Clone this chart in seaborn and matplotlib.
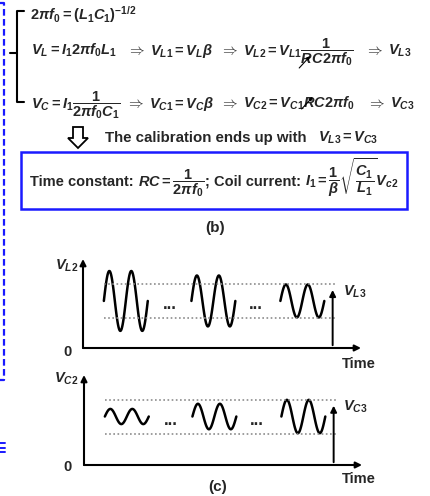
import numpy as np
import pandas as pd
import matplotlib
matplotlib.use('Agg')
import matplotlib.pyplot as plt
from matplotlib.patches import Rectangle, Polygon
import seaborn as sns

# Datos de los trenes de onda (unidades arbitrarias)
burst_start = [0.75, 3.9, 7.1]
burst_len = 1.58
burst_cycles = 2
vl2_amp = [1.0, 0.85, 0.55]
vc2_amp = [0.25, 0.42, 0.55]
vl2_center = 1.57
vc2_center = 1.6
vl3_band = [1.0, 2.13]
vc3_band = [1.03, 2.13]
vl3_level = 2.03
vc3_level = 2.05
marker_t = 8.98
dots_t = [3.13, 6.2]

sns.set_style('white')
plt.rcParams['font.family'] = ['Liberation Sans', 'DejaVu Sans']
plt.rcParams['font.weight'] = 'bold'
plt.rcParams['mathtext.fontset'] = 'custom'
plt.rcParams['mathtext.rm'] = 'Liberation Sans:bold'
plt.rcParams['mathtext.it'] = 'Liberation Sans:bold:italic'
plt.rcParams['mathtext.bf'] = 'Liberation Sans:bold'
plt.rcParams['mathtext.sf'] = 'Liberation Sans:bold'

W, H = 430, 496
fig = plt.figure(figsize=(W / 100, H / 100), dpi=100)
renderer = fig.canvas.get_renderer()

# capa de fondo en pixeles para textos y adornos
ax0 = fig.add_axes([0, 0, 1, 1])
ax0.set_xlim(0, W)
ax0.set_ylim(H, 0)
ax0.axis('off')

blue = '#1a1aff'
fs = 10.5

# linea azul discontinua a la izquierda
ax0.plot([0, 4, 4, 0], [3, 3, 380, 380], color=blue, lw=1.6, ls=(0, (3, 1.5)))
for yy in [443, 447.5, 452]:
    ax0.plot([0, 5], [yy, yy], color=blue, lw=1.4)

# llave
ax0.plot([24, 17, 17, 24], [11, 11, 102, 102], color='k', lw=1.5)
ax0.plot([10, 17], [53, 53], color='k', lw=1.5)


def t(x, y, s, size=fs, ha='left', va='baseline'):
    return ax0.text(x, y, s, fontsize=size, ha=ha, va=va, fontweight='bold')


def width(s, size=fs):
    tmp = t(0, 0, s, size=size)
    w = tmp.get_window_extent(renderer).width
    tmp.remove()
    return w


def seg_line(y, parts, size=fs, gap=5):
    end = 0
    out = []
    for s, anchor in parts:
        x = max(anchor, end + gap)
        txt = t(x, y, s, size=size)
        w = txt.get_window_extent(renderer).width
        end = x + w
        out.append((x, w))
    return out


def r_arrow(x0, y0):
    ax0.annotate('', xy=(x0 + 11, y0 - 12), xytext=(x0, y0),
                 arrowprops=dict(arrowstyle='-|>', lw=0.8, color='k', mutation_scale=5,
                                 shrinkA=0, shrinkB=0))


t(30, 20, r'$2\pi f_0 = (L_1C_1)^{-1/2}$')

y2 = 55
l2 = seg_line(y2, [(r'$V_L = I_1 2\pi f_0 L_1$', 31),
                   (r'$\Rightarrow$', 127),
                   (r'$V_{L1} = V_L\beta$', 145),
                   (r'$\Rightarrow$', 220),
                   (r'$V_{L2} = V_{L1}\dfrac{1}{RC2\pi f_0}$', 238),
                   (r'$\Rightarrow$', 365),
                   (r'$V_{L3}$', 385)])

y3 = 108
l3 = seg_line(y3, [(r'$V_C = I_1\dfrac{1}{2\pi f_0 C_1}$', 31),
                   (r'$\Rightarrow$', 120),
                   (r'$V_{C1} = V_C\beta$', 138),
                   (r'$\Rightarrow$', 220),
                   (r'$V_{C2} = V_{C1}RC2\pi f_0$', 238),
                   (r'$\Rightarrow$', 367),
                   (r'$V_{C3}$', 385)])

# flechitas de resistencia variable sobre la R
w_den = width(r'$RC2\pi f_0$')
x_r2 = l2[4][0] + l2[4][1] - w_den - 1
r_arrow(x_r2 - 2, y2 + 13)
x_r3 = l3[4][0] + l3[4][1] - w_den
r_arrow(x_r3 - 2, y3 + 1)

# flecha hueca hacia abajo
arrow_pts = [(73, 127), (83, 127), (83, 138), (88, 138), (78, 148), (68, 138), (73, 138)]
ax0.add_patch(Polygon(arrow_pts, closed=True, facecolor='white', edgecolor='k', lw=1.3))
t(105, 142, 'The calibration ends up with', size=10.8)
t(318, 142, r'$V_{L3} = V_{C3}$')

# recuadro azul
ax0.add_patch(Rectangle((21, 152), 386, 57, fill=False, edgecolor=blue, lw=1.8))
fb = 10.5
box_parts = [('Time constant:', 0),
             (r'$RC = \dfrac{1}{2\pi f_0}$', 5),
             ('; Coil current:', 0),
             (r'$I_1 = \dfrac{1}{\beta}\sqrt{\dfrac{C_1}{L_1}}V_{c2}$', 4)]
items = []
for s, gap in box_parts:
    txt = t(0, 186, s, size=fb)
    w = txt.get_window_extent(renderer).width
    items.append((txt, gap, w))
total = sum(g + w for _, g, w in items)
x = 214 - total / 2
for txt, gap, w in items:
    x += gap
    txt.set_x(x)
    x += w

t(215, 228, '(b)', size=11, ha='center', va='center')
t(218, 487, '(c)', size=11, ha='center', va='center')


def make_df(amps, center):
    rows = []
    for i, (t0, a) in enumerate(zip(burst_start, amps)):
        tt = np.linspace(0, burst_len, 120)
        vv = center + a * np.sin(2 * np.pi * burst_cycles * tt / burst_len)
        rows.append(pd.DataFrame({'t': t0 + tt, 'v': vv, 'burst': i}))
    return pd.concat(rows, ignore_index=True)


def panel(rect, amps, center, band, level, ylab, lab3, lab_pos):
    ax = fig.add_axes(rect)
    df = make_df(amps, center)
    sns.lineplot(data=df, x='t', y='v', units='burst', estimator=None,
                 color='k', lw=1.8, ax=ax, legend=False)
    ax.hlines(band, burst_start[0], 9.15, colors='#8c8c8c', linestyles=(0, (1, 1.5)), lw=1.2)
    ax.annotate('', xy=(marker_t, level), xytext=(marker_t, 0),
                arrowprops=dict(arrowstyle='-|>', lw=1.4, color='k', mutation_scale=9))
    for dx in dots_t:
        ax.text(dx, center - 0.28, '...', fontsize=12, ha='center', va='baseline', fontweight='bold')
    ax.set_xlim(0, 10)
    ax.set_ylim(0, 2.97)
    ax.set_xlabel('')
    ax.set_ylabel('')
    ax.set_xticks([])
    ax.set_yticks([])
    for s in ax.spines.values():
        s.set_visible(False)
    ax.patch.set_alpha(0)
    ax.annotate('', xy=(1, 0), xytext=(0, 0), xycoords='axes fraction',
                arrowprops=dict(arrowstyle='-|>', lw=1.5, color='k', mutation_scale=9,
                                shrinkA=0, shrinkB=0))
    ax.annotate('', xy=(0, 1), xytext=(0, 0), xycoords='axes fraction',
                arrowprops=dict(arrowstyle='-|>', lw=1.5, color='k', mutation_scale=9,
                                shrinkA=0, shrinkB=0))
    yl, y0, ytime, y3l = lab_pos
    t(78, yl, ylab, ha='right', va='center')
    t(72, y0, '0', size=10.5, ha='right', va='center')
    t(342, ytime, 'Time', size=10.5, va='center')
    t(343, y3l, lab3, va='center')
    return ax


panel([83 / W, (H - 348) / H, (361 - 83) / W, (348 - 259) / H],
      vl2_amp, vl2_center, vl3_band, vl3_level,
      r'$\mathit{V_{L2}}$', r'$\mathit{V_{L3}}$', (266, 352, 364, 292))
panel([84 / W, (H - 465) / H, (362 - 84) / W, (465 - 375) / H],
      vc2_amp, vc2_center, vc3_band, vc3_level,
      r'$\mathit{V_{C2}}$', r'$\mathit{V_{C3}}$', (379, 467, 479, 407))

fig.savefig('out.png', dpi=100)
